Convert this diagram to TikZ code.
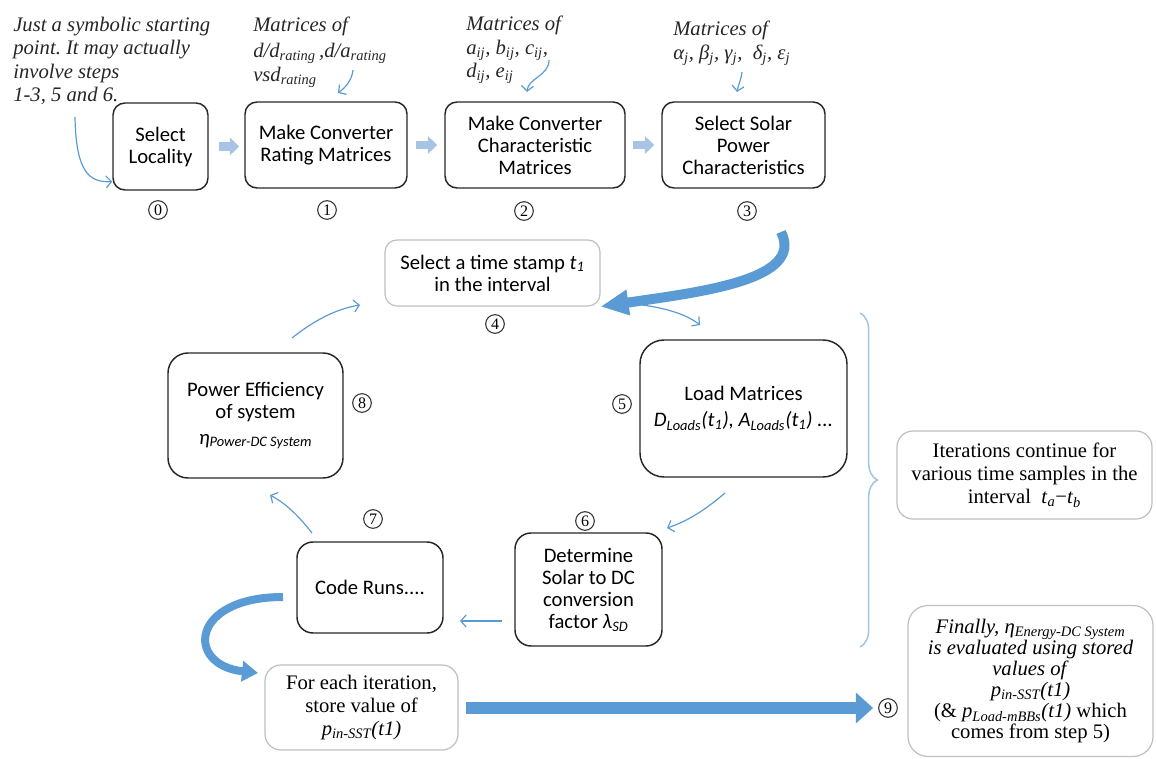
\documentclass[tikz,border=0pt]{standalone}
\usepackage{fontspec}
\setmainfont{Liberation Serif}
\newfontfamily\calib{Carlito}
\usetikzlibrary{arrows.meta,decorations.pathreplacing,calc}
\definecolor{thinblue}{HTML}{5B9BD5}
\definecolor{bigblue}{HTML}{5B9BD5}
\definecolor{paleblue}{HTML}{A8C4E4}
\definecolor{bracecol}{HTML}{9DC3E6}
\definecolor{graybd}{HTML}{BFBFBF}
\newcommand\tightlines{\lineskiplimit=-6pt\relax}
\frenchspacing
\begin{document}
\begin{tikzpicture}[x=0.75pt,y=-0.75pt,
 blackbox/.style={draw=black!85, line width=1.1pt, rounded corners=9pt, align=center, inner sep=2pt, font=\calib\fontsize{15.5}{16.5}\selectfont},
 graybox/.style={draw=graybd, line width=0.9pt, rounded corners=9pt, align=center, inner sep=2pt},
 stepnum/.style={circle, draw=black!80, line width=0.8pt, inner sep=0pt, minimum size=14pt, font=\fontsize{12}{12}\selectfont},
 thinarr/.style={draw=thinblue, line width=0.9pt, -{Straight Barb[length=4pt,width=9pt]}},
 blockarr/.style={draw=paleblue, line width=6.5pt, -{Triangle[length=7pt,width=13pt]}},
 bigarr/.style={draw=bigblue, line width=7.5pt, -{Triangle[length=21pt,width=18pt]}},
 annot/.style={align=left, anchor=north west, inner sep=0pt, text=black!85, font=\itshape\fontsize{15.5}{17.5}\selectfont},
 bracestyle/.style={draw=bracecol, line width=1.1pt, decorate, decoration={brace, amplitude=13pt}}
]
\useasboundingbox (0,0) rectangle (1156,759);

% ---------- top row boxes ----------
\node[blackbox, minimum width=71.25pt, minimum height=65.25pt] (b0) at (160.5,146.5) {Select\\Locality};
\node[blackbox, minimum width=121.5pt, minimum height=64.5pt] (b1) at (326,145) {Make Converter\\Rating Matrices};
\node[blackbox, minimum width=135pt, minimum height=64.5pt] (b2) at (535,145) {Make Converter\\Characteristic\\Matrices};
\node[blackbox, minimum width=122.25pt, minimum height=64.5pt] (b3) at (743.5,145) {Select Solar\\Power\\Characteristics};

% ---------- loop boxes ----------
\node[graybox, minimum width=161.25pt, minimum height=49.5pt, font=\calib\fontsize{15.5}{16.5}\selectfont] (b4) at (492.5,273)
  {Select a time stamp \textit{t}\textsubscript{\textit{1}}\\in the interval};
\node[blackbox, rounded corners=18pt, minimum width=155.25pt, minimum height=102.75pt] (b5) at (743.5,408.5)
  {Load Matrices\\[3pt]\textit{D\textsubscript{Loads}(t\textsubscript{1}), A\textsubscript{Loads}(t\textsubscript{1}) ...}};
\node[blackbox, rounded corners=12pt, minimum width=110.25pt, minimum height=84.75pt] (b6) at (588.5,589.5)
  {Determine\\Solar to DC\\conversion\\factor \textit{λ\textsubscript{SD}}};
\node[blackbox, rounded corners=12pt, minimum width=109.5pt, minimum height=68.25pt] (b7) at (370,587.5) {Code Runs....};
\node[blackbox, rounded corners=15pt, minimum width=131.25pt, minimum height=93.75pt] (b8) at (255.5,415.5)
  {Power Efficiency\\of system\\[3pt]\textit{η\textsubscript{Power-DC System}}};

% ---------- serif boxes ----------
\node[graybox, rounded corners=12pt, minimum width=191.25pt, minimum height=66pt, font=\fontsize{15.5}{17.5}\selectfont] (iter) at (1024.5,475)
  {Iterations continue for\\various time samples in the\\interval \ \textit{t}\textsubscript{\textit{a}}−\textit{t}\textsubscript{\textit{b}}};
\node[graybox, rounded corners=12pt, minimum width=144.75pt, minimum height=63.75pt, font=\fontsize{15.5}{17}\selectfont] (store) at (361.5,707.5)
  {For each iteration,\\store value of\\\textit{p\textsubscript{in-SST}(t1)}};
\node[graybox, rounded corners=15pt, minimum width=183.75pt, minimum height=113.25pt, font={\fontsize{15.5}{15.8}\selectfont\tightlines}] (final) at (1030.5,681)
  {\textit{Finally, η\textsubscript{Energy-DC System}}\\\textit{is evaluated using stored}\\\textit{values of}\\\textit{p\textsubscript{in-SST}(t1)}\\(\& \textit{p\textsubscript{Load-mBBs}(t1)} which\\comes from step 5)};

% ---------- step numbers ----------
\node[stepnum] (c0) at (158,210) {0};
\node[stepnum] (c1) at (327,210) {1};
\node[stepnum] (c2) at (524,211) {2};
\node[stepnum] (c3) at (747,211) {3};
\node[stepnum] (c4) at (495,324) {4};
\node[stepnum] (c5) at (622,404) {5};
\node[stepnum] (c6) at (585,521) {6};
\node[stepnum] (c7) at (373,519) {7};
\node[stepnum] (c8) at (362,403) {8};
\node[stepnum] (c9) at (888,708) {9};

% ---------- annotations ----------
\node[annot] (n0) at (13,17) {Just a symbolic starting\\point. It may actually\\involve steps\\1-3, 5 and 6.};
\node[annot] (n1) at (253,17) {Matrices of\\[2pt]d/d\textsubscript{rating}\,,d/a\textsubscript{rating}\\vsd\textsubscript{rating}};
\node[annot] (n2) at (466,16) {Matrices of\\a\textsubscript{ij}, b\textsubscript{ij}, c\textsubscript{ij},\\d\textsubscript{ij}, e\textsubscript{ij}};
\node[annot] (n3) at (673,21) {Matrices of\\α\textsubscript{j}, β\textsubscript{j}, γ\textsubscript{j}, \ δ\textsubscript{j}, ε\textsubscript{j}};

% free ends of annotation arrows
\coordinate (a0s) at (75,117);
\coordinate (a1s) at (353,70);
\coordinate (a1e) at (338,93);
\coordinate (a2s) at (549,60);
\coordinate (a2e) at (527,92);
\coordinate (a3s) at (742,72);
\coordinate (a3e) at (737,92);

\draw[thinarr] (a0s) .. controls (76,170) and (88,183) .. (b0.216);
\draw[thinarr] (a1s) .. controls (352,80) and (345,88) .. (a1e);
\draw[thinarr] (a2s) .. controls (549,76) and (528,78) .. (a2e);
\draw[thinarr] (a3s) .. controls (741,80) and (738,86) .. (a3e);

% ---------- block arrows top row ----------
\draw[blockarr, shorten <=7.5pt, shorten >=3.75pt] (b0.east) -- (b0.east -| b1.west);
\draw[blockarr, shorten <=6pt, shorten >=5.25pt] (b1.east) -- (b1.east -| b2.west);
\draw[blockarr, shorten <=5.25pt, shorten >=5.25pt] (b2.east) -- (b2.east -| b3.west);

% ---------- thin loop arrows ----------
\coordinate (l45s) at (642,305);
\coordinate (l45e) at (700,325);
\coordinate (l56s) at (725,493);
\coordinate (l56e) at (667,528);
\coordinate (l67s) at (502,621);
\coordinate (l67e) at (460,621);
\coordinate (l78s) at (312,533);
\coordinate (l78e) at (270,495);
\coordinate (l84s) at (292,338);
\coordinate (l84e) at (360,305);
\draw[thinarr] (l45s) .. controls (665,308) and (686,314) .. (l45e);
\draw[thinarr] (l56s) .. controls (705,510) and (688,521) .. (l56e);
\draw[thinarr] (l67s) -- (l67e);
\draw[thinarr] (l78s) .. controls (298,515) and (285,503) .. (l78e);
\draw[thinarr] (l84s) .. controls (312,322) and (335,309) .. (l84e);

% ---------- big arrows ----------
\coordinate (t1s) at (781,232);
\draw[bigarr] (t1s) .. controls (805,280) and (700,292) .. (b4.south east);
\coordinate (t2s) at (283,597);
\coordinate (t2e) at (258,673);
\draw[bigarr, line width=6pt, -{Triangle[length=12pt,width=15pt]}] (t2s) .. controls (190,597) and (185,665) .. (t2e);
\coordinate (t3s) at (store.east |- c9.west);
\draw[bigarr, line width=9pt, -{Triangle[length=13pt,width=22.5pt]}, shorten <=5.25pt, shorten >=3.75pt] (t3s) -- (c9.west);

% ---------- brace ----------
\coordinate (brt) at (860,313);
\coordinate (brb) at (860,647);
\draw[bracestyle] (brt) -- (brb);
\end{tikzpicture}
\end{document}
